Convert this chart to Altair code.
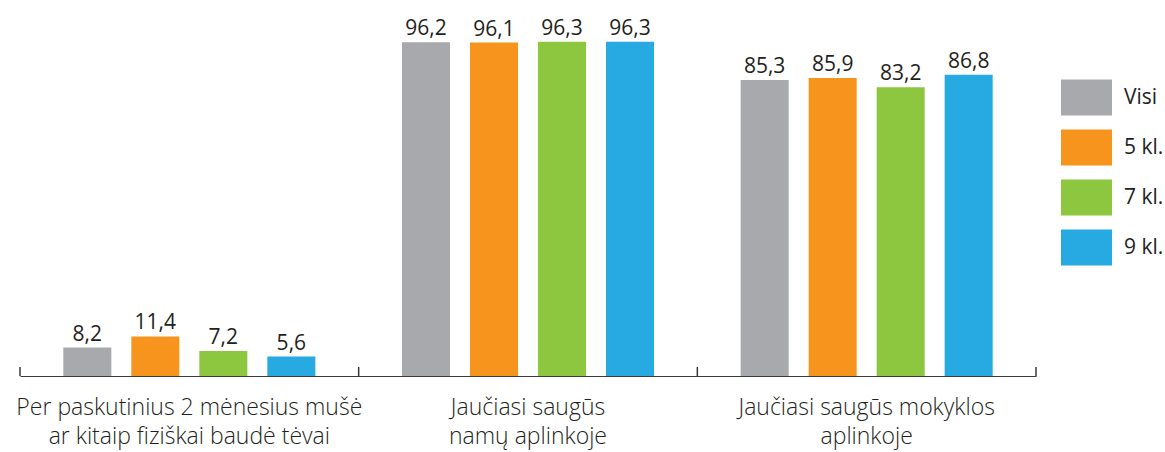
import altair as alt
import pandas as pd

categories = [
    "Per paskutinius 2 mėnesius mušė|ar kitaip fiziškai baudė tėvai",
    "Jaučiasi saugūs|namų aplinkoje",
    "Jaučiasi saugūs mokyklos|aplinkoje",
]
series = ["Visi", "5 kl.", "7 kl.", "9 kl."]
values = {
    "Visi": [8.2, 96.2, 85.3],
    "5 kl.": [11.4, 96.1, 85.9],
    "7 kl.": [7.2, 96.3, 83.2],
    "9 kl.": [5.6, 96.3, 86.8],
}
colors = ["#a7a9ac", "#f7941d", "#8dc63f", "#27aae1"]

rows = []
for s in series:
    for c, v in zip(categories, values[s]):
        rows.append({"cat": c, "series": s, "value": v,
                     "label": f"{v:.1f}".replace(".", ",")})
df = pd.DataFrame(rows)

W, H = 1016, 376
FONT = "Open Sans"
TXT = "#231f20"

xscale = alt.Scale(domain=categories, paddingInner=0, paddingOuter=0)
offscale = alt.Scale(domain=series, paddingInner=0.294, paddingOuter=0.637)
yscale = alt.Scale(domain=[0, 108.36], nice=False)

base = alt.Chart(df)

bars = base.mark_bar().encode(
    x=alt.X("cat:N", scale=xscale, sort=categories, title=None,
            axis=alt.Axis(labelExpr="split(datum.label, '|')", labelAngle=0,
                          labelFont=FONT, labelFontSize=23, labelFontWeight=300,
                          labelColor=TXT,
                          labelLineHeight=29, labelPadding=20, labelBaseline="top",
                          ticks=False, domainColor="#3a3a3a", domainWidth=1.2,
                          labelLimit=0)),
    xOffset=alt.XOffset("series:N", scale=offscale, sort=series),
    y=alt.Y("value:Q", scale=yscale, axis=None),
    color=alt.Color("series:N", sort=series,
                    scale=alt.Scale(domain=series, range=colors),
                    legend=alt.Legend(
                        title=None, orient="none", legendX=1041, legendY=72,
                        symbolType="M-1.014,-0.716L1.014,-0.716L1.014,0.716L-1.014,0.716Z",
                        symbolSize=2530, symbolStrokeWidth=0, symbolOpacity=1,
                        rowPadding=6, labelOffset=12, padding=0,
                        labelFont=FONT, labelFontSize=21, labelFontWeight=400,
                        labelColor=TXT)),
)

labels = base.mark_text(baseline="alphabetic", dy=-7, font=FONT, fontSize=21,
                        fontWeight=400, color=TXT).encode(
    x=alt.X("cat:N", scale=xscale, sort=categories),
    xOffset=alt.XOffset("series:N", scale=offscale, sort=series),
    y=alt.Y("value:Q", scale=yscale),
    text="label:N",
)

tick_start = alt.Chart(pd.DataFrame({"cat": categories})).mark_rule(
    color="#3a3a3a", strokeWidth=1.5).encode(
    x=alt.X("cat:N", scale=xscale, sort=categories, bandPosition=0),
    y=alt.value(H - 9), y2=alt.value(H),
)
tick_end = alt.Chart(pd.DataFrame({"cat": categories[-1:]})).mark_rule(
    color="#3a3a3a", strokeWidth=1.5).encode(
    x=alt.X("cat:N", scale=xscale, sort=categories, bandPosition=1),
    y=alt.value(H - 9), y2=alt.value(H),
)

chart = alt.layer(bars, labels, tick_start, tick_end).properties(
    width=W, height=H,
    autosize=alt.AutoSizeParams(type="none"),
    padding={"left": 20, "top": 0, "right": 129, "bottom": 76},
    background="white",
).configure_view(stroke=None)

chart.save("out.html", embed_options={"renderer": "svg", "actions": False})
